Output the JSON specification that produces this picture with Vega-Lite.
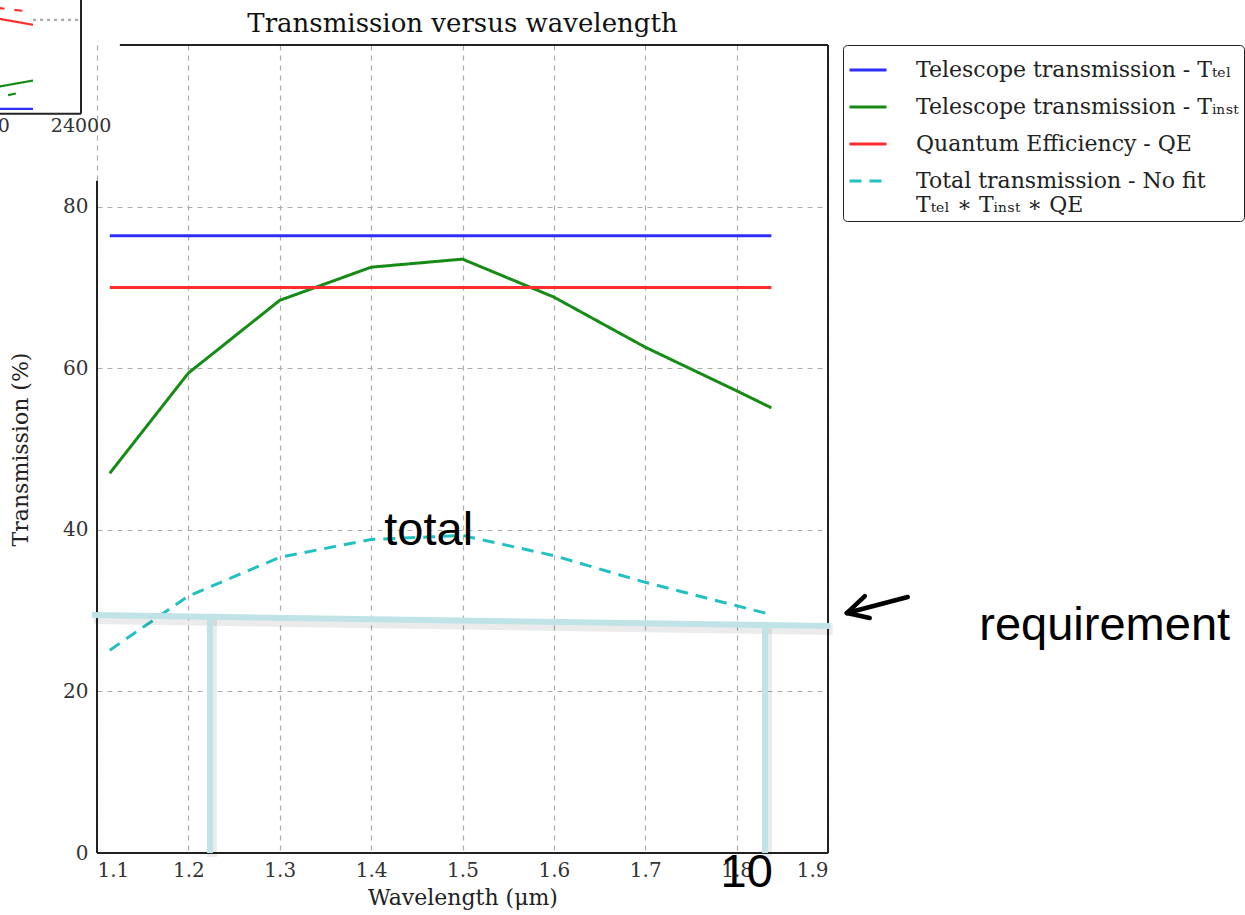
{
  "$schema": "https://vega.github.io/schema/vega-lite/v6.json",
  "width": 731,
  "height": 808,
  "autosize": {"type": "none"},
  "padding": {"left": 97, "top": 45, "right": 417, "bottom": 62},
  "background": "white",
  "title": {"text": "Transmission versus wavelength", "font": "DejaVu Serif", "fontSize": 26, "fontWeight": "normal", "color": "#111", "anchor": "middle", "frame": "group", "offset": -38},
  "config": {
    "view": {"stroke": null},
    "axis": {"labelFont": "DejaVu Serif", "titleFont": "DejaVu Serif", "labelColor": "#333", "titleColor": "#222", "labelFontSize": 20, "titleFontSize": 22, "titleFontWeight": "normal", "ticks": false, "domain": false, "gridColor": "#aaaaaa", "gridDash": [5, 5], "gridWidth": 1.2}
  },
  "datasets": {
    "series": [
      {"wl": 1.114, "series": "tel", "value": 76.4},
      {"wl": 1.838, "series": "tel", "value": 76.4},
      {"wl": 1.114, "series": "inst", "value": 47.0},
      {"wl": 1.2, "series": "inst", "value": 59.4},
      {"wl": 1.3, "series": "inst", "value": 68.4},
      {"wl": 1.4, "series": "inst", "value": 72.5},
      {"wl": 1.5, "series": "inst", "value": 73.5},
      {"wl": 1.6, "series": "inst", "value": 68.8},
      {"wl": 1.7, "series": "inst", "value": 62.6},
      {"wl": 1.8, "series": "inst", "value": 57.2},
      {"wl": 1.838, "series": "inst", "value": 55.1},
      {"wl": 1.114, "series": "qe", "value": 70.0},
      {"wl": 1.838, "series": "qe", "value": 70.0},
      {"wl": 1.114, "series": "total", "value": 25.1},
      {"wl": 1.2, "series": "total", "value": 31.8},
      {"wl": 1.3, "series": "total", "value": 36.6},
      {"wl": 1.4, "series": "total", "value": 38.8},
      {"wl": 1.5, "series": "total", "value": 39.3},
      {"wl": 1.6, "series": "total", "value": 36.8},
      {"wl": 1.7, "series": "total", "value": 33.5},
      {"wl": 1.8, "series": "total", "value": 30.6},
      {"wl": 1.838, "series": "total", "value": 29.5}
    ],
    "frame": [
      {"x": 1.1, "y": 0, "x2": 1.9, "y2": 0},
      {"x": 1.9, "y": 0, "x2": 1.9, "y2": 100},
      {"x": 1.125, "y": 100, "x2": 1.9, "y2": 100},
      {"x": 1.1, "y": 0, "x2": 1.1, "y2": 83.2},
      {"x": 1.0825, "y": 91.5, "x2": 1.0825, "y2": 105.6},
      {"x": 0.99, "y": 91.5, "x2": 1.0825, "y2": 91.5}
    ],
    "inset": [
      {"part": "grid", "x": 1.03, "y": 103.1, "x2": 1.0825, "y2": 103.1},
      {"part": "red", "x": 0.99, "y": 103.3, "x2": 1.03, "y2": 102.5},
      {"part": "redDash", "x": 0.99, "y": 104.6, "x2": 1.0289, "y2": 104.1},
      {"part": "green", "x": 0.99, "y": 94.8, "x2": 1.03, "y2": 95.6},
      {"part": "greenDash", "x": 1.0027, "y": 93.8, "x2": 1.0158, "y2": 94.1},
      {"part": "blue", "x": 0.99, "y": 92.1, "x2": 1.03, "y2": 92.1}
    ],
    "insetLabels": [
      {"label": "24000", "x": 1.0825, "y": 90.0},
      {"label": "0", "x": 0.998, "y": 90.0}
    ],
    "req": [
      {"x": 1.0945, "y": 29.45, "x2": 1.903, "y2": 28.1},
      {"x": 1.2236, "y": 29.3, "x2": 1.2236, "y2": 0},
      {"x": 1.831, "y": 28.3, "x2": 1.831, "y2": 0}
    ],
    "arrow": [
      {"x": 1.9873, "y": 31.68, "x2": 1.9206, "y2": 29.7},
      {"x": 1.9403, "y": 31.8, "x2": 1.9206, "y2": 29.7},
      {"x": 1.9457, "y": 29.08, "x2": 1.9206, "y2": 29.7}
    ],
    "notes": [
      {"label": "total", "x": 1.463, "y": 38.1},
      {"label": "10", "x": 1.811, "y": -4.2},
      {"label": "requirement", "x": 2.2028, "y": 26.4}
    ]
  },
  "layer": [
    {
      "data": {"name": "series"},
      "mark": {"type": "line", "strokeWidth": 3, "clip": false},
      "encoding": {
        "x": {"field": "wl", "type": "quantitative", "scale": {"domain": [1.1, 1.9], "nice": false, "zero": false},
              "axis": {"values": [1.1, 1.2, 1.3, 1.4, 1.5, 1.6, 1.7, 1.8, 1.9], "format": ".1f", "grid": true, "title": "Wavelength (μm)", "labelPadding": 7, "titlePadding": 7}},
        "y": {"field": "value", "type": "quantitative", "scale": {"domain": [0, 100], "nice": false, "zero": true},
              "axis": {"values": [0, 20, 40, 60, 80], "grid": true, "title": "Transmission (%)", "labelPadding": 9, "titlePadding": 30}},
        "color": {"field": "series", "type": "nominal",
                  "scale": {"domain": ["tel", "inst", "qe", "total"], "range": ["#2e2eff", "#168c16", "#ff2e2e", "#22c0c0"]},
                  "legend": {"orient": "none", "legendX": 746, "legendY": 0, "title": null, "direction": "vertical",
                             "strokeColor": "#222", "fillColor": "white", "cornerRadius": 4, "padding": 5,
                             "symbolType": "stroke", "symbolSize": 1369, "symbolStrokeWidth": 3,
                             "labelFont": "DejaVu Serif", "labelFontSize": 22, "labelColor": "#222", "labelOffset": 28, "labelLimit": 500, "rowPadding": 6,
                             "labelExpr": "datum.value == 'tel' ? 'Telescope transmission - Tₜₑₗ' : datum.value == 'inst' ? 'Telescope transmission - Tᵢₙₛₜ' : datum.value == 'qe' ? 'Quantum Efficiency - QE' : ['Total transmission - No fit', 'Tₜₑₗ ∗ Tᵢₙₛₜ ∗ QE']"}},
        "strokeDash": {"field": "series", "type": "nominal",
                       "scale": {"domain": ["tel", "inst", "qe", "total"], "range": [[1, 0], [1, 0], [1, 0], [12, 8]]},
                       "legend": null}
      }
    },
    {
      "data": {"name": "frame"},
      "mark": {"type": "rule", "color": "#222", "strokeWidth": 2, "clip": false},
      "encoding": {
        "x": {"field": "x", "type": "quantitative"},
        "x2": {"field": "x2"},
        "y": {"field": "y", "type": "quantitative"},
        "y2": {"field": "y2"}
      }
    },
    {
      "data": {"name": "inset"},
      "mark": {"type": "rule", "strokeWidth": 2.2, "clip": false},
      "encoding": {
        "x": {"field": "x", "type": "quantitative"},
        "x2": {"field": "x2"},
        "y": {"field": "y", "type": "quantitative"},
        "y2": {"field": "y2"},
        "color": {"field": "part", "type": "nominal", "legend": null,
                  "scale": {"domain": ["grid", "red", "redDash", "green", "greenDash", "blue"], "range": ["#aaaaaa", "#ff2e2e", "#ff2e2e", "#168c16", "#168c16", "#2e2eff"]}},
        "strokeDash": {"field": "part", "type": "nominal", "legend": null,
                       "scale": {"domain": ["grid", "red", "redDash", "green", "greenDash", "blue"], "range": [[3, 4], [1, 0], [8, 10], [1, 0], [8, 6], [1, 0]]}}
      }
    },
    {
      "data": {"name": "insetLabels"},
      "mark": {"type": "text", "font": "DejaVu Serif", "fontSize": 19, "color": "#333", "align": "center", "baseline": "middle", "clip": false},
      "encoding": {
        "x": {"field": "x", "type": "quantitative"},
        "y": {"field": "y", "type": "quantitative"},
        "text": {"field": "label"}
      }
    },
    {
      "data": {"name": "req"},
      "mark": {"type": "rule", "color": "#000000", "opacity": 0.08, "strokeWidth": 10, "xOffset": 2, "x2Offset": 2, "yOffset": 4, "y2Offset": 4, "clip": false},
      "encoding": {
        "x": {"field": "x", "type": "quantitative"},
        "x2": {"field": "x2"},
        "y": {"field": "y", "type": "quantitative"},
        "y2": {"field": "y2"}
      }
    },
    {
      "data": {"name": "req"},
      "mark": {"type": "rule", "color": "#bfe3e6", "strokeWidth": 6, "clip": false},
      "encoding": {
        "x": {"field": "x", "type": "quantitative"},
        "x2": {"field": "x2"},
        "y": {"field": "y", "type": "quantitative"},
        "y2": {"field": "y2"}
      }
    },
    {
      "data": {"name": "arrow"},
      "mark": {"type": "rule", "color": "#000000", "strokeWidth": 4.5, "strokeCap": "round", "clip": false},
      "encoding": {
        "x": {"field": "x", "type": "quantitative"},
        "x2": {"field": "x2"},
        "y": {"field": "y", "type": "quantitative"},
        "y2": {"field": "y2"}
      }
    },
    {
      "data": {"name": "notes"},
      "mark": {"type": "text", "font": "Liberation Sans", "fontSize": 47, "color": "#000000", "align": "center", "baseline": "alphabetic", "clip": false},
      "encoding": {
        "x": {"field": "x", "type": "quantitative"},
        "y": {"field": "y", "type": "quantitative"},
        "text": {"field": "label"}
      }
    }
  ],
  "resolve": {"scale": {"color": "independent", "strokeDash": "independent"}}
}
